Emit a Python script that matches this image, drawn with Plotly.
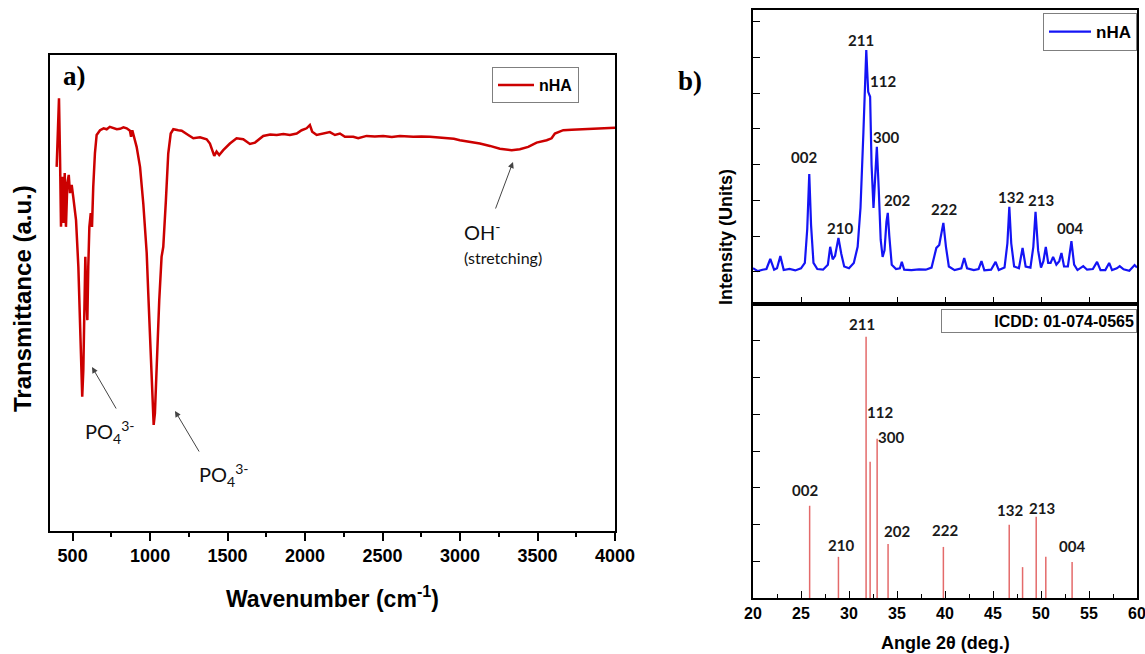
import plotly.graph_objects as go

# ---------------- FTIR data (panel a) ----------------
ftir_wavenumber = [397, 408, 412, 419, 425, 433, 440, 449, 457, 466, 475, 483, 494, 504, 522, 537, 548, 556, 562, 569,
                   575, 582, 588, 595, 601, 608, 617, 625, 633, 644, 655, 677, 700, 720, 740, 762, 785, 806, 828, 849,
                   870, 877, 885, 913, 935, 956, 967, 978, 988, 1004, 1017, 1023, 1031, 1042, 1059, 1074, 1085, 1102,
                   1117, 1133, 1150, 1182, 1204, 1246, 1279, 1322, 1365, 1386, 1414, 1429, 1446, 1472, 1515, 1558,
                   1601, 1644, 1677, 1730, 1775, 1817, 1860, 1902, 1946, 1978, 2010, 2031, 2046, 2075, 2117, 2160,
                   2193, 2225, 2257, 2311, 2343, 2397, 2450, 2504, 2560, 2612, 2698, 2750, 2806, 2860, 2913, 2960,
                   2999, 3064, 3128, 3193, 3257, 3333, 3386, 3440, 3494, 3559, 3591, 3612, 3666, 3720, 3773, 3830,
                   3881, 3940, 4000]
ftir_transmittance = [76.5, 84.9, 90.9, 77.9, 63.9, 74.4, 64.7, 75.2, 63.9, 73.1, 74.8, 71.0, 72.7, 70.2, 65.3, 55.5,
                      42.9, 32.4, 28.2, 33.8, 50.0, 57.6, 50.0, 44.3, 55.5, 63.9, 66.8, 63.9, 72.3, 79.4, 83.2, 84.2,
                      84.6, 84.4, 84.9, 84.7, 84.4, 84.5, 84.8, 84.6, 84.1, 82.8, 84.2, 80.7, 76.5, 68.8, 62.9, 58.4,
                      50.0, 35.9, 24.7, 22.3, 24.7, 35.9, 48.5, 57.6, 59.7, 69.5, 79.3, 83.5, 84.4, 84.2, 84.1, 83.2,
                      82.5, 82.7, 82.3, 81.4, 78.8, 79.7, 79.0, 80.0, 81.4, 82.5, 82.3, 81.3, 81.6, 83.0, 83.3, 83.2,
                      83.4, 83.2, 83.5, 84.2, 84.6, 85.3, 83.9, 83.2, 83.5, 83.8, 83.2, 83.5, 82.8, 82.8, 82.5, 83.0,
                      82.9, 83.0, 82.8, 83.0, 82.8, 82.9, 82.8, 82.7, 82.6, 82.4, 82.1, 81.8, 81.4, 80.9, 80.3, 80.0,
                      80.2, 80.7, 81.6, 82.1, 82.5, 83.5, 84.2, 84.3, 84.4, 84.5, 84.6, 84.6, 84.7]

# ---------------- XRD measured pattern (panel b, top) ----------------
xrd_angle = [20.0, 20.5, 21.0, 21.4, 21.8, 22.2, 22.5, 22.85, 23.2, 23.8, 24.4, 25.0, 25.4, 25.65, 25.86, 26.05,
             26.3, 26.7, 27.3, 27.8, 28.04, 28.3, 28.55, 28.9, 29.2, 29.5, 30.0, 30.5, 30.9, 31.2, 31.5, 31.7,
             31.8, 31.9, 32.0, 32.2, 32.35, 32.55, 32.75, 32.9, 33.1, 33.3, 33.5, 33.7, 33.9, 34.04, 34.2, 34.45,
             34.9, 35.3, 35.5, 35.75, 36.5, 37.3, 38.0, 38.6, 38.9, 39.1, 39.4, 39.83, 40.1, 40.4, 41.0, 41.7,
             42.0, 42.3, 43.0, 43.5, 43.8, 44.1, 44.8, 45.27, 45.6, 46.2, 46.5, 46.7, 46.9, 47.2, 47.7, 48.08,
             48.4, 48.9, 49.2, 49.43, 49.7, 50.0, 50.25, 50.5, 50.75, 51.0, 51.26, 51.6, 51.9, 52.13, 52.4, 52.8,
             53.17, 53.45, 53.8, 54.4, 54.8, 55.4, 55.84, 56.2, 56.7, 57.1, 57.4, 57.9, 58.2, 58.6, 59.2, 59.75,
             60.0]
xrd_intensity = [0.10, 0.02, 0.06, 0.08, 0.36, 0.06, 0.10, 0.44, 0.05, 0.08, 0.04, 0.10, 0.25, 1.20, 2.74, 1.30,
                 0.25, 0.08, 0.06, 0.20, 0.70, 0.35, 0.45, 0.95, 0.50, 0.15, 0.10, 0.25, 0.70, 1.80, 3.90, 5.80,
                 6.21, 5.60, 5.04, 4.90, 3.00, 1.79, 3.00, 3.50, 2.30, 0.90, 0.42, 0.60, 1.40, 1.65, 1.00, 0.20,
                 0.08, 0.10, 0.28, 0.06, 0.05, 0.07, 0.06, 0.12, 0.45, 0.67, 0.75, 1.37, 0.70, 0.15, 0.05, 0.10,
                 0.39, 0.10, 0.05, 0.08, 0.30, 0.04, 0.06, 0.28, 0.05, 0.12, 0.80, 1.82, 0.80, 0.15, 0.10, 0.67,
                 0.15, 0.12, 0.70, 1.68, 0.60, 0.12, 0.30, 0.70, 0.25, 0.25, 0.42, 0.20, 0.30, 0.53, 0.15, 0.15,
                 0.86, 0.20, 0.05, 0.16, 0.06, 0.08, 0.28, 0.05, 0.05, 0.25, 0.05, 0.10, 0.16, 0.07, 0.03, 0.19,
                 0.12]

# ---------------- ICDD reference sticks (panel b, bottom) ----------------
icdd_angle = [25.9, 28.9, 31.78, 32.2, 32.93, 34.07, 39.83, 46.69, 48.08, 49.5, 50.5, 53.24]
icdd_intensity = [2.51, 1.12, 7.11, 3.71, 4.33, 1.47, 1.39, 1.99, 0.84, 2.21, 1.12, 0.98]

# hkl labels: (text, angle, top-panel value, bottom-panel value)
hkl_text = ["211", "112", "300", "002", "210", "202", "222", "132", "213", "004"]
hkl_x_top = [31.25, 33.54, 33.85, 25.31, 29.06, 35.0, 39.9, 46.88, 50.0, 53.02]
hkl_y_top = [6.50, 5.35, 3.78, 3.22, 1.23, 2.01, 1.76, 2.10, 2.01, 1.23]
hkl_x_bot = [31.35, 33.23, 34.38, 25.42, 29.17, 35.0, 40.0, 46.77, 50.1, 53.23]
hkl_y_bot = [7.46, 5.06, 4.38, 2.94, 1.44, 1.82, 1.85, 2.39, 2.45, 1.41]

W, H = 1145, 654
def px(x):
    return x / W
def py(y):
    return 1 - y / H

ARIAL = "Liberation Sans"
TIMES = "Liberation Serif"
CAL = "Lato"

fig = go.Figure()

fig.add_trace(go.Scatter(x=ftir_wavenumber, y=ftir_transmittance, mode="lines", name="nHA",
                         line=dict(color="#CC0000", width=2.5), xaxis="x", yaxis="y", legend="legend"))
fig.add_trace(go.Scatter(x=xrd_angle, y=xrd_intensity, mode="lines", name="nHA",
                         line=dict(color="#1414F5", width=2.2), xaxis="x2", yaxis="y2", legend="legend2"))

stick_x, stick_y = [], []
for a, v in zip(icdd_angle, icdd_intensity):
    stick_x += [a, a, None]
    stick_y += [0, v, None]
fig.add_trace(go.Scatter(x=stick_x, y=stick_y, mode="lines", name="ICDD: 01-074-0565",
                         line=dict(color="#E46A6A", width=1.5), xaxis="x3", yaxis="y3", showlegend=False))

axis_common = dict(showline=True, linecolor="black", linewidth=1.5, mirror=True, showgrid=False,
                   zeroline=False, automargin=False)

fig.update_layout(
    width=W, height=H, margin=dict(l=0, r=0, t=0, b=0, autoexpand=False),
    paper_bgcolor="white", plot_bgcolor="white",
    xaxis=dict(domain=[px(50), px(615)], range=[354, 4000], anchor="y", tick0=0, dtick=500,
               ticks="outside", ticklen=8, tickwidth=1.5, tickcolor="black", ticklabeloverflow="allow",
               minor=dict(dtick=250, ticks="outside", ticklen=4, tickwidth=1.5, tickcolor="black"),
               tickfont=dict(family=ARIAL, size=18, color="black", weight="bold"), **axis_common),
    yaxis=dict(domain=[py(531), py(55)], range=[0, 100], anchor="x", showticklabels=False, ticks="",
               **axis_common),
    xaxis2=dict(domain=[px(753), px(1137)], range=[20, 60], anchor="y2", tick0=0, dtick=5,
                ticks="inside", ticklen=7, tickwidth=1.2, tickcolor="black", showticklabels=False,
                **axis_common),
    yaxis2=dict(domain=[py(304), py(10)], range=[-0.9, 7.33], anchor="x2", tick0=0, dtick=1,
                ticks="inside", ticklen=7, tickwidth=1.2, tickcolor="black", showticklabels=False,
                **axis_common),
    xaxis3=dict(domain=[px(753), px(1137)], range=[20, 60], anchor="y3", tick0=0, dtick=5,
                ticks="inside", ticklen=7, tickwidth=1.2, tickcolor="black", ticklabeloverflow="allow",
                minor=dict(dtick=2.5, ticks="inside", ticklen=4, tickwidth=1.2, tickcolor="black"),
                tickfont=dict(family=ARIAL, size=16, color="black", weight="bold"), **axis_common),
    yaxis3=dict(domain=[py(598), py(304)], range=[0, 8], anchor="x3", tick0=0, dtick=1,
                ticks="inside", ticklen=7, tickwidth=1.2, tickcolor="black", showticklabels=False,
                **axis_common),
    legend=dict(x=px(492), y=py(67), xanchor="left", yanchor="top", bgcolor="white",
                bordercolor="#7f7f7f", borderwidth=1, font=dict(family=ARIAL, size=16, color="black", weight="bold"),
                itemwidth=36, tracegroupgap=0),
    legend2=dict(x=px(1137), y=py(13), xanchor="right", yanchor="top", bgcolor="white",
                 bordercolor="#7f7f7f", borderwidth=1, font=dict(family=ARIAL, size=17, color="black", weight="bold"),
                 itemwidth=42),
)

ann = []
def txt(text, x, y, font, xref="paper", yref="paper", **kw):
    d = dict(text=text, x=x, y=y, xref=xref, yref=yref, showarrow=False, font=font,
             xanchor="center", yanchor="middle")
    d.update(kw)
    ann.append(d)

# panel letters
txt("a)", px(74), py(76), dict(family=TIMES, size=27, color="black", weight="bold"))
txt("b)", px(690), py(81), dict(family=TIMES, size=27, color="black", weight="bold"))
# axis titles
txt("Wavenumber (cm<sup>-1</sup>)", px(332), py(597), dict(family=ARIAL, size=23, color="black", weight="bold"))
txt("Transmittance (a.u.)", px(22), py(299), dict(family=ARIAL, size=24, color="black", weight="bold"),
    textangle=-90)
txt("Angle 2θ (deg.)", px(945), py(643), dict(family=ARIAL, size=18, color="black", weight="bold"))
txt("Intensity (Units)", px(726), py(237), dict(family=ARIAL, size=18, color="black", weight="bold"),
    textangle=-90)
# ICDD box
txt("ICDD: 01-074-0565", px(1137), py(309), dict(family=ARIAL, size=16, color="black", weight="bold"),
    xanchor="right", yanchor="top", align="right", width=190, height=18,
    bordercolor="#7f7f7f", borderwidth=1, borderpad=2, bgcolor="white")
# FTIR band labels
lab_font = dict(family=CAL, size=20, color="#111111")
txt("PO<sub>4</sub><sup>3-</sup>", px(83), py(432), lab_font, xanchor="left")
txt("PO<sub>4</sub><sup>3-</sup>", px(197), py(475), lab_font, xanchor="left")
txt("OH<sup>-</sup>", px(462), py(231), lab_font, xanchor="left")
txt("(stretching)", px(462), py(257), dict(family=CAL, size=16, color="#111111"), xanchor="left")
# arrows (head, tail offset in px)
for hx, hy, tx, ty in [(92, 367, 117, 410), (175, 411, 200, 453), (513, 162, 495, 210)]:
    ann.append(dict(text="", x=px(hx), y=py(hy), xref="paper", yref="paper", showarrow=True,
                    ax=tx - hx, ay=ty - hy, arrowhead=2, arrowsize=1.2, arrowwidth=1,
                    arrowcolor="#444444", standoff=0))
# hkl labels
hkl_font = dict(family=CAL, size=15, color="#1a1a1a", weight="bold")
for t, x, y in zip(hkl_text, hkl_x_top, hkl_y_top):
    txt(t, x, y, hkl_font, xref="x2", yref="y2")
for t, x, y in zip(hkl_text, hkl_x_bot, hkl_y_bot):
    txt(t, x, y, hkl_font, xref="x3", yref="y3")

fig.update_layout(annotations=ann)
fig.write_html("out.html")
